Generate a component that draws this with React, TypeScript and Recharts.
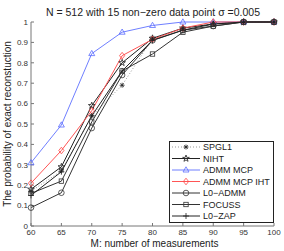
import React from 'react';
import { LineChart, Line, XAxis, YAxis, Legend } from 'recharts';

const measurements = [60, 65, 70, 75, 80, 85, 90, 95, 100];
const xTicks = [60, 65, 70, 75, 80, 85, 90, 95, 100];
const yTicks = [0, 0.1, 0.2, 0.3, 0.4, 0.5, 0.6, 0.7, 0.8, 0.9, 1];

const spgl1 = [0.17, 0.27, 0.54, 0.69, 0.92, 0.97, 0.99, 1, 1];
const niht = [0.18, 0.29, 0.59, 0.8, 0.92, 0.97, 0.99, 1, 1];
const admmMcp = [0.31, 0.495, 0.845, 0.95, 0.983, 1, 1, 1, 1];
const admmMcpIht = [0.21, 0.37, 0.565, 0.835, 0.915, 0.97, 1, 1, 1];
const l0Admm = [0.09, 0.163, 0.48, 0.74, 0.91, 0.96, 0.98, 1, 1];
const focuss = [0.16, 0.22, 0.51, 0.76, 0.843, 0.95, 0.98, 1, 1];
const l0Zap = [0.15, 0.266, 0.54, 0.76, 0.91, 0.96, 0.99, 1, 1];

const seriesNames = ['SPGL1', 'NIHT', 'ADMM MCP', 'ADMM MCP IHT', 'L0\u2212ADMM', 'FOCUSS', 'L0\u2212ZAP'];
const title = 'N = 512 with 15 non\u2212zero data point \u03c3 =0.005';

const data = measurements.map((m, i) => ({
  m,
  s0: spgl1[i],
  s1: niht[i],
  s2: admmMcp[i],
  s3: admmMcpIht[i],
  s4: l0Admm[i],
  s5: focuss[i],
  s6: l0Zap[i],
}));

type Shape = 'asterisk' | 'star' | 'triangle' | 'diamond' | 'circle' | 'square' | 'plus';

const styles: { key: string; color: string; lineColor: string; dash?: string; shape: Shape }[] = [
  { key: 's0', color: '#222', lineColor: '#999', dash: '1 2', shape: 'asterisk' },
  { key: 's1', color: '#222', lineColor: '#222', shape: 'star' },
  { key: 's2', color: '#5b6cff', lineColor: '#6f7fff', shape: 'triangle' },
  { key: 's3', color: '#ff4545', lineColor: '#ff5555', shape: 'diamond' },
  { key: 's4', color: '#333', lineColor: '#333', shape: 'circle' },
  { key: 's5', color: '#333', lineColor: '#333', shape: 'square' },
  { key: 's6', color: '#222', lineColor: '#222', shape: 'plus' },
];

const FONT = '"Liberation Sans", Arial, sans-serif';

function Marker({ shape, cx, cy, color }: { shape: Shape; cx: number; cy: number; color: string }) {
  const sw = 0.8;
  switch (shape) {
    case 'asterisk':
      return (
        <g stroke={color} strokeWidth={sw}>
          <line x1={cx - 2.5} y1={cy} x2={cx + 2.5} y2={cy} />
          <line x1={cx} y1={cy - 2.5} x2={cx} y2={cy + 2.5} />
          <line x1={cx - 1.8} y1={cy - 1.8} x2={cx + 1.8} y2={cy + 1.8} />
          <line x1={cx - 1.8} y1={cy + 1.8} x2={cx + 1.8} y2={cy - 1.8} />
        </g>
      );
    case 'star': {
      const pts: string[] = [];
      for (let k = 0; k < 10; k++) {
        const r = k % 2 === 0 ? 3.5 : 1.4;
        const a = -Math.PI / 2 + (k * Math.PI) / 5;
        pts.push(`${cx + r * Math.cos(a)},${cy + r * Math.sin(a)}`);
      }
      return <polygon points={pts.join(' ')} fill="none" stroke={color} strokeWidth={sw} />;
    }
    case 'triangle':
      return (
        <polygon
          points={`${cx},${cy - 3.2} ${cx - 3},${cy + 2} ${cx + 3},${cy + 2}`}
          fill="none"
          stroke={color}
          strokeWidth={sw}
        />
      );
    case 'diamond':
      return (
        <polygon
          points={`${cx},${cy - 3.3} ${cx + 2.6},${cy} ${cx},${cy + 3.3} ${cx - 2.6},${cy}`}
          fill="none"
          stroke={color}
          strokeWidth={sw}
        />
      );
    case 'circle':
      return <circle cx={cx} cy={cy} r={2.8} fill="none" stroke={color} strokeWidth={sw} />;
    case 'square':
      return <rect x={cx - 2.2} y={cy - 2.2} width={4.4} height={4.4} fill="none" stroke={color} strokeWidth={sw} />;
    case 'plus':
      return (
        <g stroke={color} strokeWidth={sw}>
          <line x1={cx - 3} y1={cy} x2={cx + 3} y2={cy} />
          <line x1={cx} y1={cy - 3} x2={cx} y2={cy + 3} />
        </g>
      );
  }
  return null;
}

function LegendBox() {
  const rowH = 11.5;
  return (
    <svg width={106} height={83} style={{ display: 'block' }}>
      <rect x={0.5} y={0.5} width={104} height={81} fill="#fff" stroke="#222" strokeWidth={1} />
      {styles.map((s, i) => {
        const y = 6 + i * rowH;
        return (
          <g key={s.key}>
            <line x1={3} y1={y} x2={31} y2={y} stroke={s.lineColor} strokeWidth={1} strokeDasharray={s.dash} />
            <Marker shape={s.shape} cx={17} cy={y} color={s.color} />
            <text x={34} y={y + 3.2} fontSize={9} fontFamily={FONT} fill="#222">
              {seriesNames[i]}
            </text>
          </g>
        );
      })}
    </svg>
  );
}

export default function App() {
  return (
    <div style={{ position: 'absolute', left: 0, top: 0, width: 284, height: 251, background: '#fff' }}>
      <LineChart width={284} height={251} data={data} margin={{ top: 22, right: 10, left: 0, bottom: 0 }}>
        <XAxis
          dataKey="m"
          type="number"
          domain={[60, 100]}
          ticks={xTicks}
          height={25}
          tickSize={-3}
          tickMargin={6}
          stroke="#777"
          tick={{ fontSize: 8, fill: '#333', fontFamily: FONT }}
          label={{
            content: (p: any) => {
              const vb = p.viewBox;
              return (
                <text x={vb.x + vb.width / 2 + 2} y={247} textAnchor="middle" fontSize={10} fontFamily={FONT} fill="#222">
                  M: number of measurements
                </text>
              );
            },
          }}
        />
        <XAxis
          xAxisId="top"
          dataKey="m"
          type="number"
          orientation="top"
          domain={[60, 100]}
          ticks={xTicks}
          height={0}
          tickSize={-3}
          tick={false}
          stroke="#777"
        />
        <YAxis
          type="number"
          domain={[0, 1]}
          ticks={yTicks}
          width={31}
          tickSize={-3}
          tickMargin={6}
          stroke="#777"
          interval={0}
          tick={{ fontSize: 8, fill: '#333', fontFamily: FONT }}
          label={{
            content: (p: any) => {
              const vb = p.viewBox;
              const cy = vb.y + vb.height / 2;
              return (
                <g>
                  <text
                    x={8}
                    y={cy}
                    transform={`rotate(-90, 8, ${cy})`}
                    textAnchor="middle"
                    dominantBaseline="middle"
                    fontSize={10}
                    fontFamily={FONT}
                    fill="#222"
                  >
                    The probability of exact reconstuction
                  </text>
                  <text x={153} y={16} textAnchor="middle" fontSize={10.5} fontFamily={FONT} fill="#222">
                    {title}
                  </text>
                </g>
              );
            },
          }}
        />
        <YAxis
          yAxisId="right"
          orientation="right"
          type="number"
          domain={[0, 1]}
          ticks={yTicks}
          width={0}
          tickSize={-3}
          tick={false}
          stroke="#777"
        />
        {styles.map((s) => (
          <Line
            key={s.key}
            dataKey={s.key}
            stroke={s.lineColor}
            strokeWidth={1}
            strokeDasharray={s.dash}
            isAnimationActive={false}
            dot={(p: any) => <Marker key={`${s.key}-${p.index}`} shape={s.shape} cx={p.cx} cy={p.cy} color={s.color} />}
            activeDot={false}
          />
        ))}
        <Legend
          layout="vertical"
          align="center"
          verticalAlign="middle"
          content={() => <LegendBox />}
          wrapperStyle={{ position: 'absolute', left: 169, top: 141, width: 106, height: 83 }}
        />
      </LineChart>
    </div>
  );
}
